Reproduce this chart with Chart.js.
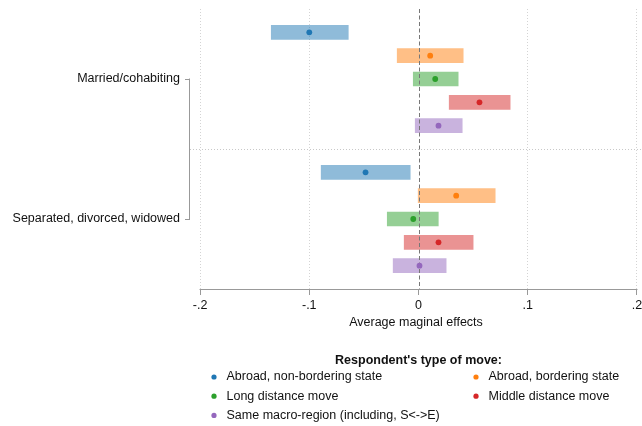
<!DOCTYPE html>
<html>
<head>
<meta charset="utf-8">
<script src="https://cdn.jsdelivr.net/npm/chart.js@4/dist/chart.umd.min.js"></script>
<style>
  html, body { margin: 0; padding: 0; background: #fff; }
  #wrap { width: 642px; height: 426px; }
</style>
</head>
<body>
<div id="wrap"><canvas id="c" width="642" height="426"></canvas></div>
<script>
// Groups (y axis) and series (type of move)
const groups = ['Married/cohabiting', 'Separated, divorced, widowed'];
const seriesLabels = [
  'Abroad, non-bordering state',
  'Abroad, bordering state',
  'Long distance move',
  'Middle distance move',
  'Same macro-region (including, S<->E)'
];
const seriesColors = ['#1f77b4', '#ff7f0e', '#2ca02c', '#d62728', '#9467bd'];
const barColors = ['rgba(31,119,180,0.5)', 'rgba(255,127,14,0.5)', 'rgba(44,160,44,0.5)',
                   'rgba(214,39,40,0.5)', 'rgba(148,103,189,0.5)'];

// Point estimates per series: [married, separated]
const estNonBordering = [-0.100, -0.0485];
const estBordering    = [ 0.0107, 0.0345];
const estLongDist     = [ 0.0153, -0.0048];
const estMiddleDist   = [ 0.0558, 0.0183];
const estSameRegion   = [ 0.0183, 0.0009];

// Confidence interval lower bounds
const loNonBordering = [-0.1348, -0.0891];
const loBordering    = [-0.0195, -0.0003];
const loLongDist     = [-0.0048, -0.0286];
const loMiddleDist   = [ 0.0281, -0.0131];
const loSameRegion   = [-0.0030, -0.0232];

// Confidence interval upper bounds
const hiNonBordering = [-0.0643, -0.0076];
const hiBordering    = [ 0.0409, 0.0702];
const hiLongDist     = [ 0.0363, 0.0181];
const hiMiddleDist   = [ 0.0839, 0.0500];
const hiSameRegion   = [ 0.0400, 0.0253];

const xTicks = [-0.2, -0.1, 0, 0.1, 0.2];
const xTickLabels = ['-.2', '-.1', '0', '.1', '.2'];

const estimates = [estNonBordering, estBordering, estLongDist, estMiddleDist, estSameRegion];
const lows = [loNonBordering, loBordering, loLongDist, loMiddleDist, loSameRegion];
const highs = [hiNonBordering, hiBordering, hiLongDist, hiMiddleDist, hiSameRegion];

// Row position of series s within group g (one empty row between groups)
const rowOf = (g, s) => g * (seriesLabels.length + 1) + s + 1;
const nRows = groups.length * (seriesLabels.length + 1);   // 12
const groupCenter = g => rowOf(g, Math.floor(seriesLabels.length / 2));
const separatorRow = seriesLabels.length + 1;

const FONT = "'Liberation Sans', Arial, Helvetica, sans-serif";
Chart.defaults.font.family = FONT;
Chart.defaults.font.size = 12.5;
Chart.defaults.color = '#111';

const datasets = [];
seriesLabels.forEach((lab, s) => {
  datasets.push({
    type: 'bar',
    label: lab,
    data: groups.map((g, gi) => ({ y: rowOf(gi, s), x: [lows[s][gi], highs[s][gi]] })),
    backgroundColor: barColors[s],
    borderWidth: 0,
    barThickness: 14,
    grouped: false,
    order: 2
  });
});
seriesLabels.forEach((lab, s) => {
  datasets.push({
    type: 'scatter',
    label: lab + ' (estimate)',
    data: groups.map((g, gi) => ({ x: estimates[s][gi], y: rowOf(gi, s) })),
    backgroundColor: seriesColors[s],
    pointRadius: 2.9,
    pointBorderWidth: 0,
    showLine: false,
    order: 1
  });
});

// Reference lines, axis segments, bracket and legend
const decorations = {
  id: 'decorations',
  beforeDatasetsDraw(chart) {
    chart.$zeroDrawn = false;
    const { ctx, chartArea, scales } = chart;
    // dotted separator between groups
    const ys = Math.round(scales.y.getPixelForValue(separatorRow)) + 0.5;
    ctx.save();
    ctx.strokeStyle = '#c8c8c8';
    ctx.lineWidth = 1;
    ctx.setLineDash([1, 2]);
    ctx.beginPath();
    ctx.moveTo(chartArea.left, ys);
    ctx.lineTo(chart.width, ys);
    ctx.stroke();
    ctx.restore();
  },
  beforeDatasetDraw(chart, args) {
    const ds = chart.data.datasets[args.index];
    if (ds.type === 'scatter' && !chart.$zeroDrawn) {
      chart.$zeroDrawn = true;
      const { ctx, chartArea, scales } = chart;
      const x0 = Math.round(scales.x.getPixelForValue(0)) + 0.5;
      ctx.save();
      ctx.strokeStyle = '#777';
      ctx.lineWidth = 1;
      ctx.setLineDash([4, 2.5]);
      ctx.beginPath();
      ctx.moveTo(x0, chartArea.top);
      ctx.lineTo(x0, chartArea.bottom);
      ctx.stroke();
      ctx.restore();
    }
  },
  afterDraw(chart) {
    const { ctx, chartArea, scales } = chart;
    ctx.save();
    ctx.strokeStyle = '#999';
    ctx.lineWidth = 1;
    // x axis line from first to last tick
    const yb = Math.round(chartArea.bottom) + 0.5;
    ctx.beginPath();
    ctx.moveTo(scales.x.getPixelForValue(xTicks[0]) - 0.5, yb);
    ctx.lineTo(scales.x.getPixelForValue(xTicks[xTicks.length - 1]) + 0.5, yb);
    ctx.stroke();
    // y axis line spanning the group labels
    const xl = Math.round(chartArea.left) - 0.5;
    ctx.beginPath();
    ctx.moveTo(xl, scales.y.getPixelForValue(groupCenter(0)) - 0.5);
    ctx.lineTo(xl, scales.y.getPixelForValue(groupCenter(groups.length - 1)) + 0.5);
    ctx.stroke();
    ctx.restore();

    // legend
    const bars = chart.data.datasets.filter(d => d.type === 'bar');
    const cx = scales.x.getPixelForValue(0);
    const top = chartArea.bottom;
    ctx.save();
    ctx.fillStyle = '#111';
    ctx.textAlign = 'center';
    ctx.textBaseline = 'middle';
    ctx.font = 'bold 12.5px ' + FONT;
    ctx.fillText("Respondent's type of move:", cx, top + 72);
    ctx.font = '12.5px ' + FONT;
    ctx.textAlign = 'left';
    const colX = [chartArea.left + 24, chartArea.left + 286];
    bars.forEach((d, i) => {
      const col = i % 2, row = Math.floor(i / 2);
      const x = colX[col];
      const y = top + 88 + row * 19.2;
      ctx.fillStyle = seriesColors[i];
      ctx.beginPath();
      ctx.arc(x, y, 2.6, 0, Math.PI * 2);
      ctx.fill();
      ctx.fillStyle = '#111';
      ctx.fillText(d.label, x + 12.5, y);
    });
    ctx.restore();
  }
};

new Chart(document.getElementById('c'), {
  type: 'bar',
  data: { datasets },
  options: {
    indexAxis: 'y',
    responsive: false,
    devicePixelRatio: 1,
    animation: false,
    layout: { autoPadding: false, padding: { top: 9, left: 0, right: 0, bottom: 87 } },
    plugins: { legend: { display: false }, tooltip: { enabled: false } },
    scales: {
      x: {
        type: 'linear',
        min: -0.2092,
        max: 0.2046,
        offset: false,
        afterBuildTicks: sc => { sc.ticks = xTicks.map(v => ({ value: v })); },
        afterFit: sc => { sc.height = 50; sc.paddingLeft = 0; sc.paddingRight = 0; },
        ticks: {
          padding: 3,
          maxRotation: 0,
          autoSkip: false,
          callback: (v, i) => xTickLabels[i]
        },
        grid: {
          offset: false,
          color: ctx => (ctx.tick && ctx.tick.value === 0) ? 'rgba(0,0,0,0)' : '#d4d4d4',
          lineWidth: 1,
          tickLength: 6,
          tickColor: '#999',
          tickBorderDash: []
        },
        border: { display: false, dash: [1, 2] },
        title: {
          display: true,
          text: 'Average maginal effects',
          padding: { top: 0, bottom: 9 }
        }
      },
      y: {
        type: 'linear',
        reverse: true,
        min: 0,
        max: nRows,
        offset: false,
        afterBuildTicks: sc => { sc.ticks = groups.map((g, gi) => ({ value: groupCenter(gi) })); },
        afterFit: sc => { sc.width = 190; sc.paddingTop = 0; sc.paddingBottom = 0; },
        ticks: {
          padding: 5,
          autoSkip: false,
          callback: (v, i) => groups[i]
        },
        grid: {
          offset: false,
          drawOnChartArea: false,
          tickLength: 5,
          tickColor: '#999'
        },
        border: { display: false }
      }
    }
  },
  plugins: [decorations]
});
</script>
</body>
</html>
